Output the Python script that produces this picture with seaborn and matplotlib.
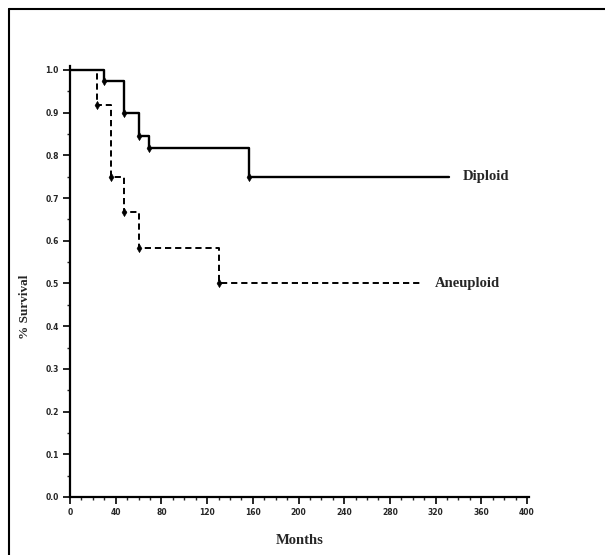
import matplotlib
matplotlib.use('Agg')
import matplotlib.pyplot as plt
from matplotlib.lines import Line2D
from matplotlib.ticker import MultipleLocator, FormatStrFormatter
import seaborn as sns
import pandas as pd

# Kaplan-Meier steps
diploid_months = [0, 30, 47, 60, 69, 157, 332]
diploid_surv = [1.0, 0.975, 0.90, 0.846, 0.818, 0.75, 0.75]
aneuploid_months = [0, 24, 36, 47, 60, 130, 306]
aneuploid_surv = [1.0, 0.917, 0.75, 0.667, 0.583, 0.5, 0.5]
x_ticks = [0, 40, 80, 120, 160, 200, 240, 280, 320, 360, 400]
y_ticks = [0.0, 0.1, 0.2, 0.3, 0.4, 0.5, 0.6, 0.7, 0.8, 0.9, 1.0]

sns.set_theme(style="ticks")
plt.rcParams['font.family'] = ['DejaVu Sans']

df_dip = pd.DataFrame({'Months': diploid_months, 'Survival': diploid_surv})
df_ane = pd.DataFrame({'Months': aneuploid_months, 'Survival': aneuploid_surv})

fig = plt.figure(figsize=(6.05, 5.55), dpi=100)
fig.patch.set_facecolor('white')
ax = fig.add_axes([70 / 605, 58 / 555, 459.3 / 605, 431.3 / 555])

sns.lineplot(data=df_dip, x='Months', y='Survival', ax=ax, color='black',
             linewidth=1.7, drawstyle='steps-post', estimator=None, sort=False)
sns.lineplot(data=df_ane, x='Months', y='Survival', ax=ax, color='black',
             linewidth=1.4, drawstyle='steps-post', estimator=None, sort=False,
             linestyle=(0, (3.2, 2)))

# small markers where the curves step down
sns.scatterplot(data=df_dip.iloc[1:-1], x='Months', y='Survival', ax=ax,
                color='black', marker='d', s=18, edgecolor='black', zorder=5)
sns.scatterplot(data=df_ane.iloc[1:-1], x='Months', y='Survival', ax=ax,
                color='black', marker='d', s=18, edgecolor='black', zorder=5)

ax.text(diploid_months[-1] + 12, diploid_surv[-1], 'Diploid', ha='left', va='center',
        fontsize=10.5, family='Liberation Serif', fontweight='bold')
ax.text(aneuploid_months[-1] + 13, aneuploid_surv[-1], 'Aneuploid', ha='left', va='center',
        fontsize=10.5, family='Liberation Serif', fontweight='bold')

ax.set_xlim(0, 402)
ax.set_ylim(0, 1.01)
ax.set_xticks(x_ticks)
ax.set_yticks(y_ticks)
ax.xaxis.set_minor_locator(MultipleLocator(10))
ax.yaxis.set_minor_locator(MultipleLocator(0.05))
ax.yaxis.set_major_formatter(FormatStrFormatter('%.1f'))
ax.tick_params(axis='both', which='major', direction='out', length=5, width=1.2,
               labelsize=5.5, color='black', pad=3)
ax.tick_params(axis='both', which='minor', direction='out', length=2.5, width=1)
for lab in ax.get_xticklabels() + ax.get_yticklabels():
    lab.set_fontweight('bold')

ax.set_xlabel('Months', fontsize=10.5, family='Liberation Serif', fontweight='bold', labelpad=12)
ax.set_ylabel('% Survival', fontsize=9.5, family='Liberation Serif', fontweight='bold')
ax.yaxis.set_label_coords(-0.084, 0.44)
sns.despine(ax=ax)
ax.spines['left'].set_linewidth(1.6)
ax.spines['bottom'].set_linewidth(1.6)
ax.spines['left'].set_color('black')
ax.spines['bottom'].set_color('black')
ax.set_facecolor('white')

# scanned page frame (top and left edges only)
fig.add_artist(Line2D([9 / 605, 1.0], [1 - 9 / 555, 1 - 9 / 555], color='black',
                      linewidth=1.5, transform=fig.transFigure))
fig.add_artist(Line2D([9 / 605, 9 / 605], [0.0, 1 - 9 / 555], color='black',
                      linewidth=1.5, transform=fig.transFigure))

fig.savefig('out.png', dpi=100)
